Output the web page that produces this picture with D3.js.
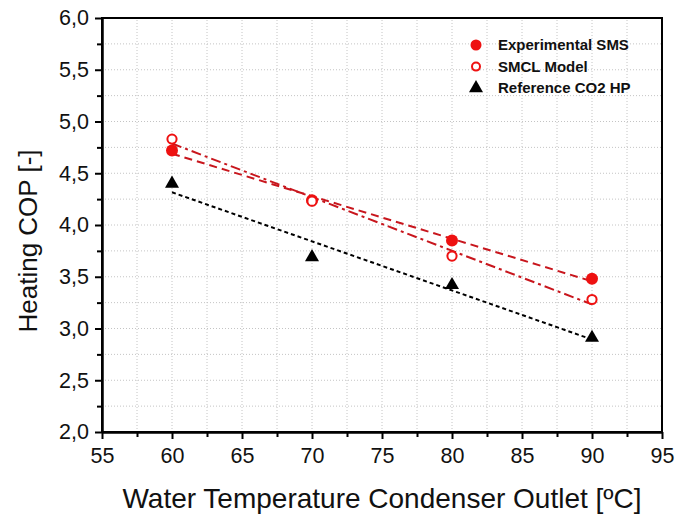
<!DOCTYPE html>
<html>
<head>
  <title>Heating COP</title>
  <script src="https://d3js.org/d3.v7.min.js"></script>
  <style>
    body { margin: 0; background: #fff; }
    text { font-family: "Liberation Sans", Arial, sans-serif; }
  </style>
</head>
<body>
  <div id="chart"></div>

  <script>
    // values
    const temps = [60, 70, 80, 90];
    const experimentalSMS = [4.72, 4.24, 3.85, 3.48];
    const smclModel = [4.83, 4.23, 3.70, 3.28];
    const referenceCO2 = [4.40, 3.69, 3.42, 2.91];
    const legendLabels = ["Experimental SMS", "SMCL Model", "Reference CO2 HP"];
    const xTicks = [55, 60, 65, 70, 75, 80, 85, 90, 95];
    const yTicks = [2.0, 2.5, 3.0, 3.5, 4.0, 4.5, 5.0, 5.5, 6.0];

    const width = 678;
    const height = 515;
    const margin = { top: 18, right: 16, bottom: 83, left: 102 };
    const red = "#ee1111";
    const lineRed = "#c8161d";

    const svg = d3.select("#chart")
      .append("svg")
      .attr("width", width)
      .attr("height", height);

    const x = d3.scaleLinear()
      .domain([55, 95])
      .range([margin.left, width - margin.right]);

    const y = d3.scaleLinear()
      .domain([2, 6])
      .range([height - margin.bottom, margin.top]);

    const fmt = d => d3.format(".1f")(d).replace(".", ",");

    // grid at major and minor steps
    const xGrid = d3.range(55, 95.01, 2.5);
    const yGrid = d3.range(2, 6.01, 0.25);
    svg.append("g").selectAll("line")
      .data(xGrid.slice(1, -1))
      .join("line")
      .attr("x1", d => x(d)).attr("x2", d => x(d))
      .attr("y1", y(2)).attr("y2", y(6))
      .attr("stroke", "#c4c4c4")
      .attr("stroke-width", 1)
      .attr("stroke-dasharray", "1,2");
    svg.append("g").selectAll("line")
      .data(yGrid.slice(1, -1))
      .join("line")
      .attr("x1", x(55)).attr("x2", x(95))
      .attr("y1", d => y(d)).attr("y2", d => y(d))
      .attr("stroke", "#c4c4c4")
      .attr("stroke-width", 1)
      .attr("stroke-dasharray", "1,2");

    // axes
    const xAxis = svg.append("g")
      .attr("transform", `translate(0, ${y(2)})`)
      .call(d3.axisBottom(x).tickValues(xTicks).tickSize(7).tickPadding(9).tickSizeOuter(0));
    const xMinor = svg.append("g")
      .attr("transform", `translate(0, ${y(2)})`)
      .call(d3.axisBottom(x).tickValues(xGrid.filter(d => d % 5 !== 0)).tickSize(5).tickFormat("").tickSizeOuter(0));
    const yAxis = svg.append("g")
      .attr("transform", `translate(${x(55)}, 0)`)
      .call(d3.axisLeft(y).tickValues(yTicks).tickFormat(fmt).tickSize(7).tickPadding(6).tickSizeOuter(0));
    const yMinor = svg.append("g")
      .attr("transform", `translate(${x(55)}, 0)`)
      .call(d3.axisLeft(y).tickValues(yGrid.filter(d => (d * 2) % 1 !== 0)).tickSize(5).tickFormat("").tickSizeOuter(0));

    [xAxis, xMinor, yAxis, yMinor].forEach(g => {
      g.selectAll("line").attr("stroke", "#000").attr("stroke-width", 2);
      g.select(".domain").attr("stroke", "#000").attr("stroke-width", 2);
      g.selectAll("text").attr("font-size", 21.5).attr("fill", "#111")
        .attr("font-family", "'Liberation Sans', Arial, sans-serif");
    });

    // frame
    svg.append("rect")
      .attr("x", x(55)).attr("y", y(6))
      .attr("width", x(95) - x(55)).attr("height", y(2) - y(6))
      .attr("fill", "none")
      .attr("stroke", "#000")
      .attr("stroke-width", 2);

    // linear fits
    function fit(xs, ys) {
      const mx = d3.mean(xs), my = d3.mean(ys);
      const sxy = d3.sum(xs, (v, i) => (v - mx) * (ys[i] - my));
      const sxx = d3.sum(xs, v => (v - mx) * (v - mx));
      const b = sxy / sxx;
      return [60, 90].map(t => [t, my + b * (t - mx)]);
    }
    const line = d3.line().x(d => x(d[0])).y(d => y(d[1]));

    svg.append("path")
      .attr("d", line(fit(temps, referenceCO2)))
      .attr("fill", "none").attr("stroke", "#000")
      .attr("stroke-width", 2).attr("stroke-dasharray", "4,3");
    svg.append("path")
      .attr("d", line(fit(temps, experimentalSMS)))
      .attr("fill", "none").attr("stroke", lineRed)
      .attr("stroke-width", 2).attr("stroke-dasharray", "8,5");
    svg.append("path")
      .attr("d", line(fit(temps, smclModel)))
      .attr("fill", "none").attr("stroke", lineRed)
      .attr("stroke-width", 2).attr("stroke-dasharray", "10,4,3,4");

    // markers
    const tri = d3.symbol().type(d3.symbolTriangle).size(85);

    svg.append("g").selectAll("path")
      .data(temps.map((t, i) => [t, referenceCO2[i]]))
      .join("path")
      .attr("d", tri)
      .attr("transform", d => `translate(${x(d[0])}, ${y(d[1])})`)
      .attr("fill", "#000");

    svg.append("g").selectAll("circle")
      .data(temps.map((t, i) => [t, experimentalSMS[i]]))
      .join("circle")
      .attr("cx", d => x(d[0])).attr("cy", d => y(d[1]))
      .attr("r", 6)
      .attr("fill", red);

    svg.append("g").selectAll("circle")
      .data(temps.map((t, i) => [t, smclModel[i]]))
      .join("circle")
      .attr("cx", d => x(d[0])).attr("cy", d => y(d[1]))
      .attr("r", 4.6)
      .attr("fill", "#fff")
      .attr("stroke", red)
      .attr("stroke-width", 2);

    // legend
    const legend = svg.append("g").attr("transform", "translate(476, 45)");
    const rows = legend.selectAll("g")
      .data(legendLabels)
      .join("g")
      .attr("transform", (d, i) => `translate(0, ${i * 21.6})`);
    rows.filter((d, i) => i === 0).append("circle")
      .attr("r", 5.5).attr("fill", red);
    rows.filter((d, i) => i === 1).append("circle")
      .attr("r", 4).attr("fill", "#fff").attr("stroke", red).attr("stroke-width", 2);
    rows.filter((d, i) => i === 2).append("path")
      .attr("d", tri).attr("fill", "#000");
    rows.append("text")
      .attr("x", 22).attr("dy", "0.35em")
      .attr("font-size", 15).attr("font-weight", "bold")
      .attr("fill", "#111")
      .text(d => d);

    // axis titles
    svg.append("text")
      .attr("x", (x(55) + x(95)) / 2).attr("y", 508)
      .attr("text-anchor", "middle")
      .attr("font-size", 28).attr("fill", "#111")
      .text("Water Temperature Condenser Outlet [ºC]");

    svg.append("text")
      .attr("transform", "translate(37, 241) rotate(-90)")
      .attr("text-anchor", "middle")
      .attr("font-size", 26).attr("fill", "#111")
      .text("Heating COP [-]");
  </script>
</body>
</html>
